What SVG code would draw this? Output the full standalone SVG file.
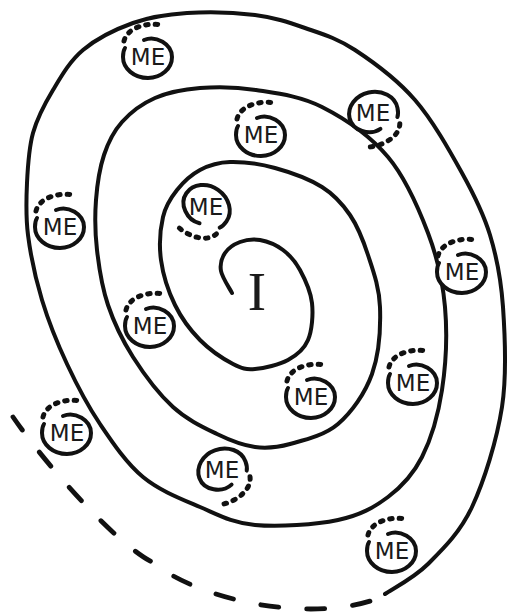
<svg xmlns="http://www.w3.org/2000/svg" width="511" height="614" viewBox="0 0 511 614">
<style>
.spiral{fill:none;stroke:#111;stroke-width:4;stroke-linecap:round;stroke-linejoin:round}
.dash{fill:none;stroke:#111;stroke-width:4.8;stroke-linecap:round;stroke-dasharray:18 28;stroke-dashoffset:31}
.ring{fill:none;stroke:#111;stroke-width:4;stroke-linecap:round}
.dots{fill:none;stroke:#111;stroke-width:5;stroke-linecap:round;stroke-dasharray:2.5 7}
.bg{fill:#fff}
.me{font-family:"DejaVu Sans",Verdana,sans-serif;font-size:23px;fill:#1a1a1a;text-anchor:middle}
.i{font-family:"Liberation Serif","Times New Roman",serif;font-size:55px;fill:#1a1a1a;text-anchor:middle}
</style>
<defs>
<g id="mering">
<ellipse class="bg" cx="0" cy="0" rx="24" ry="20"/>
<path class="ring" d="M -4,-17 C 8,-22 24,-13 24,0 C 24,11.6 13.2,21 0,21 C -13.8,21 -25,11.6 -25,0 C -25,-3 -25,-6 -23,-9"/>
<path class="dots" d="M -24,-16 C -21,-29 -2,-35 14,-32"/>
</g>
</defs>
<rect width="511" height="614" fill="#fff"/>
<g id="connectors">
<path id="spiral" class="spiral" d="M 232,293 C 230.2,289.3 222.2,277.7 221,271 C 219.8,264.3 221.8,257.8 225,253 C 228.2,248.2 234.2,244.2 240,242 C 245.8,239.8 252.8,238.7 260,240 C 267.2,241.3 276.3,245 283,250 C 289.7,255 295.2,261.2 300,270 C 304.8,278.8 310.7,291.3 312,303 C 313.3,314.7 312,330.5 308,340 C 304,349.5 296.8,355.2 288,360 C 279.2,364.8 264.2,368.3 255,369 C 245.8,369.7 242.2,368.8 233,364 C 223.8,359.2 209.7,349.8 200,340 C 190.3,330.2 181.5,318.3 175,305 C 168.5,291.7 163,274.7 161,260 C 159,245.3 160.3,228.7 163,217 C 165.7,205.3 170.8,197.8 177,190 C 183.2,182.2 191.2,174.7 200,170 C 208.8,165.3 217.5,162.3 230,162 C 242.5,161.7 259.7,163.8 275,168 C 290.3,172.2 309.5,179.2 322,187 C 334.5,194.8 342.3,203.7 350,215 C 357.7,226.3 363,239.7 368,255 C 373,270.3 379.3,287.2 380,307 C 380.7,326.8 379,354.5 372,374 C 365,393.5 351.7,412.3 338,424 C 324.3,435.7 303.8,440.2 290,444 C 276.2,447.8 267.2,448.7 255,447 C 242.8,445.3 230.7,440.7 217,434 C 203.3,427.3 187,419.8 173,407 C 159,394.2 143.8,374 133,357 C 122.2,340 114,322.8 108,305 C 102,287.2 99,267.5 97,250 C 95,232.5 94.8,215.8 96,200 C 97.2,184.2 99.7,168 104,155 C 108.3,142 113.5,131.5 122,122 C 130.5,112.5 142,103.7 155,98 C 168,92.3 183.2,89.3 200,88 C 216.8,86.7 235.7,86.8 256,90 C 276.3,93.2 300,95.8 322,107 C 344,118.2 370.3,136 388,157 C 405.7,178 418.5,208 428,233 C 437.5,258 442.7,280.8 445,307 C 447.3,333.2 445.8,365 442,390 C 438.2,415 431,439.2 422,457 C 413,474.8 402,486.5 388,497 C 374,507.5 360.2,515.3 338,520 C 315.8,524.7 278,527.2 255,525 C 232,522.8 218.7,515 200,507 C 181.3,499 159.7,490.8 143,477 C 126.3,463.2 112.7,442.8 100,424 C 87.3,405.2 76.7,384.7 67,364 C 57.3,343.3 48.5,321.5 42,300 C 35.5,278.5 30.5,254.5 28,235 C 25.5,215.5 26.2,200 27,183 C 27.8,166 28.7,148.5 33,133 C 37.3,117.5 44.7,103.8 53,90 C 61.3,76.2 69.7,61.2 83,50 C 96.3,38.8 115.7,29.2 133,23 C 150.3,16.8 166.7,14.3 187,13 C 207.3,11.7 235.3,12.5 255,15 C 274.7,17.5 288.3,22.2 305,28 C 321.7,33.8 336.7,38 355,50 C 373.3,62 397.2,79.5 415,100 C 432.8,120.5 449.5,150.5 462,173 C 474.5,195.5 483.2,212.7 490,235 C 496.8,257.3 501,278.3 503,307 C 505,335.7 507.2,373.7 502,407 C 496.8,440.3 484.3,480.8 472,507 C 459.7,533.2 442.5,549.5 428,564 C 413.5,578.5 392.2,589 385,594"/>
<path id="dashed" class="dash" d="M 384,596 C 320,624 205,604 152,562 C 118,545 48,468 13,417"/>
</g>
<g id="me-1" transform="translate(148,57)"><use href="#mering"/><text class="me" y="8">ME</text></g>
<g id="me-2" transform="translate(373,113)"><use href="#mering" transform="rotate(168)"/><text class="me" y="8">ME</text></g>
<g id="me-3" transform="translate(261,135)"><use href="#mering"/><text class="me" y="8">ME</text></g>
<g id="me-4" transform="translate(206,207)"><use href="#mering" transform="rotate(215)"/><text class="me" y="8">ME</text></g>
<g id="me-5" transform="translate(60,227)"><use href="#mering"/><text class="me" y="8">ME</text></g>
<g id="me-6" transform="translate(462,272)"><use href="#mering"/><text class="me" y="8">ME</text></g>
<g id="me-7" transform="translate(150,326)"><use href="#mering"/><text class="me" y="8">ME</text></g>
<g id="me-8" transform="translate(311,397)"><use href="#mering"/><text class="me" y="8">ME</text></g>
<g id="me-9" transform="translate(413,383)"><use href="#mering"/><text class="me" y="8">ME</text></g>
<g id="me-10" transform="translate(67,433)"><use href="#mering"/><text class="me" y="8">ME</text></g>
<g id="me-11" transform="translate(222,470)"><use href="#mering" transform="rotate(160)"/><text class="me" y="8">ME</text></g>
<g id="me-12" transform="translate(392,551)"><use href="#mering"/><text class="me" y="8">ME</text></g>
<g id="center-i"><text class="i" x="257" y="310">I</text></g>
</svg>
